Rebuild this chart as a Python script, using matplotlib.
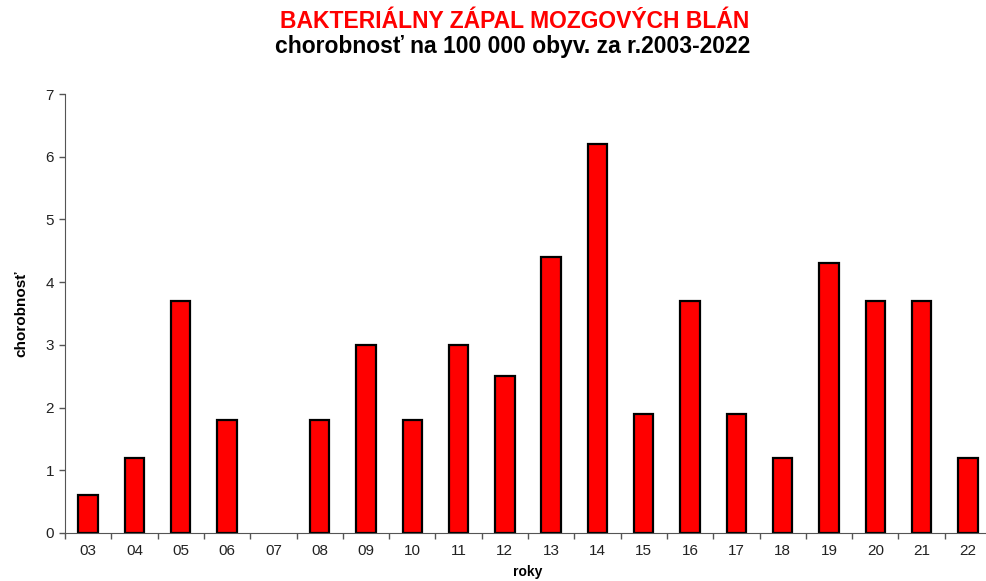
import numpy as np
import matplotlib.pyplot as plt

plt.rcParams['font.family'] = ['Liberation Sans', 'DejaVu Sans']

# incidence per 100 000 inhabitants, 2003-2022
roky = ['03', '04', '05', '06', '07', '08', '09', '10', '11', '12',
        '13', '14', '15', '16', '17', '18', '19', '20', '21', '22']
chorobnost = [0.6, 1.2, 3.7, 1.8, 0.0, 1.8, 3.0, 1.8, 3.0, 2.5,
              4.4, 6.2, 1.9, 3.7, 1.9, 1.2, 4.3, 3.7, 3.7, 1.2]

W, H = 986, 581
fig = plt.figure(figsize=(W / 100, H / 100), dpi=100)
ax = fig.add_axes([65 / W, 48 / H, 926 / W, (533 - 94) / H])

x = np.arange(len(roky))
edges = ['black' if v > 0 else 'none' for v in chorobnost]
ax.bar(x, chorobnost, width=0.42, color='#ff0000', edgecolor=edges, linewidth=1.6)

ax.set_xlim(-0.5, len(roky) - 0.5)
ax.set_ylim(0, 7)
ax.set_yticks(range(8))
ax.set_xticks(x)
ax.set_xticklabels(roky)
ax.set_xticks(np.arange(len(roky) + 1) - 0.5, minor=True)
ax.tick_params(axis='x', which='major', length=0, pad=8, labelsize=11, colors='#222222')
ax.tick_params(axis='x', which='minor', length=4, width=1, color='#555555')
ax.tick_params(axis='y', length=4, width=1, color='#555555', labelsize=11,
               labelcolor='#222222', pad=4)

for s in ['top', 'right']:
    ax.spines[s].set_visible(False)
ax.spines['left'].set_color('#555555')
ax.spines['bottom'].set_color('#555555')

ax.set_ylabel('chorobnosť', fontsize=11, fontweight='bold', labelpad=12)
ax.set_xlabel('roky', fontsize=10, fontweight='bold', labelpad=5)

fig.text(515 / W, 1 - 22 / H, 'BAKTERIÁLNY ZÁPAL MOZGOVÝCH BLÁN', color='#ff0000',
         fontsize=16.5, fontweight='bold', ha='center', va='center')
fig.text(513 / W, 1 - 47 / H, 'chorobnosť na 100 000 obyv. za r.2003-2022', color='black',
         fontsize=16.5, fontweight='bold', ha='center', va='center')

fig.savefig('out.png', dpi=100)
